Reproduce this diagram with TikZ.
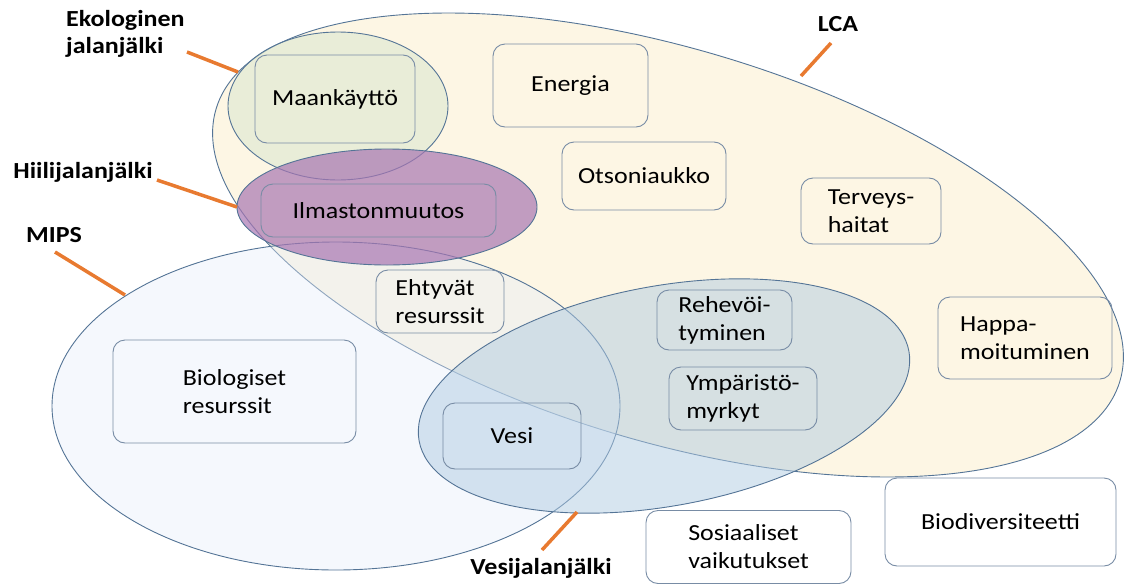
\documentclass[tikz,border=0pt]{standalone}
\usepackage{fontspec}
\setmainfont{Carlito}[FakeStretch=1.13]
\definecolor{lcafill}{RGB}{253,246,228}
\definecolor{ekofill}{RGB}{215,230,205}
\definecolor{hiilifill}{RGB}{168,118,178}
\definecolor{mipsfill}{RGB}{230,238,250}
\definecolor{vesifill}{RGB}{176,203,226}
\definecolor{edgecol}{RGB}{84,116,150}
\definecolor{boxedge}{RGB}{120,140,165}
\definecolor{orangeline}{RGB}{232,122,48}
\tikzset{
  ell/.style={draw=edgecol, line width=0.9pt},
  itembox/.style={draw=boxedge, rounded corners=12pt, line width=0.9pt, align=left, inner sep=0pt,
    font=\fontsize{23}{28}\selectfont},
  lbl/.style={font=\fontsize{23}{27}\selectfont\bfseries, align=left, inner sep=0pt},
  pointer/.style={draw=orangeline, line width=3.5pt}
}
\begin{document}
\begin{tikzpicture}[x=1pt,y=-1pt]
\useasboundingbox (0,0) rectangle (1125,584);
% ellipses
\draw[ell, fill=lcafill, rotate around={-16.8:(668,245)}] (668,245) ellipse [x radius=472pt, y radius=196pt];
\draw[ell, fill=mipsfill, fill opacity=0.4] (336,406) ellipse [x radius=284pt, y radius=164pt];
\draw[ell, fill=ekofill, fill opacity=0.5] (338,106) ellipse [x radius=110pt, y radius=74pt];
\draw[ell, fill=hiilifill, fill opacity=0.7] (387,207) ellipse [x radius=150pt, y radius=58pt];
\draw[ell, fill=vesifill, fill opacity=0.5, rotate around={10.4:(664,396)}] (664,396) ellipse [x radius=249pt, y radius=110pt];
% boxes
\node[itembox, minimum width=160, minimum height=88] (maa) at (335,99) {Maankäyttö};
\node[itembox, minimum width=155, minimum height=83] (ener) at (570.5,85.5) {Energia};
\node[itembox, minimum width=164, minimum height=68] (otso) at (644,176) {Otsoniaukko};
\node[itembox, minimum width=235, minimum height=53] (ilma) at (378.5,210.5) {Ilmastonmuutos};
\node[itembox, minimum width=140, minimum height=66] (terv) at (871,211) {Terveys-\\haitat};
\node[itembox, minimum width=174, minimum height=82] (happ) at (1025,338) {Happa-\\moituminen};
\node[itembox, minimum width=231, minimum height=88] (biod) at (1000.5,522) {Biodiversiteetti};
\node[itembox, minimum width=205, minimum height=73] (sosi) at (748.5,547) {Sosiaaliset\\vaikutukset};
\node[itembox, minimum width=135, minimum height=60] (rehe) at (724.5,320) {Rehevöi-\\tyminen};
\node[itembox, minimum width=148, minimum height=63] (ympa) at (743,398.5) {Ympäristö-\\myrkyt};
\node[itembox, minimum width=138, minimum height=66] (vesi) at (512,436) {Vesi};
\node[itembox, minimum width=128, minimum height=63] (ehty) at (440,301.5) {Ehtyvät\\resurssit};
\node[itembox, minimum width=243, minimum height=103] (biol) at (234.5,391.5) {Biologiset\\resurssit};
% labels
\node[lbl, anchor=west] (leko) at (66,34) {Ekologinen\\jalanjälki};
\node[lbl] (lhii) at (83,172) {Hiilijalanjälki};
\node[lbl] (lmip) at (54,235) {MIPS};
\node[lbl] (llca) at (838,24) {LCA};
\node[lbl] (lves) at (541,568) {Vesijalanjälki};
% pointers
\coordinate (ekoA) at (187,52); \coordinate (ekoB) at (238,72);
\coordinate (hiiA) at (157,180); \coordinate (hiiB) at (237,207);
\coordinate (mipA) at (55,252); \coordinate (mipB) at (125,295);
\coordinate (lcaA) at (831,43); \coordinate (lcaB) at (801,76);
\coordinate (vesA) at (542,550); \coordinate (vesB) at (577,512);
\draw[pointer] (ekoA) -- (ekoB);
\draw[pointer] (hiiA) -- (hiiB);
\draw[pointer] (mipA) -- (mipB);
\draw[pointer] (lcaA) -- (lcaB);
\draw[pointer] (vesA) -- (vesB);
\end{tikzpicture}
\end{document}
